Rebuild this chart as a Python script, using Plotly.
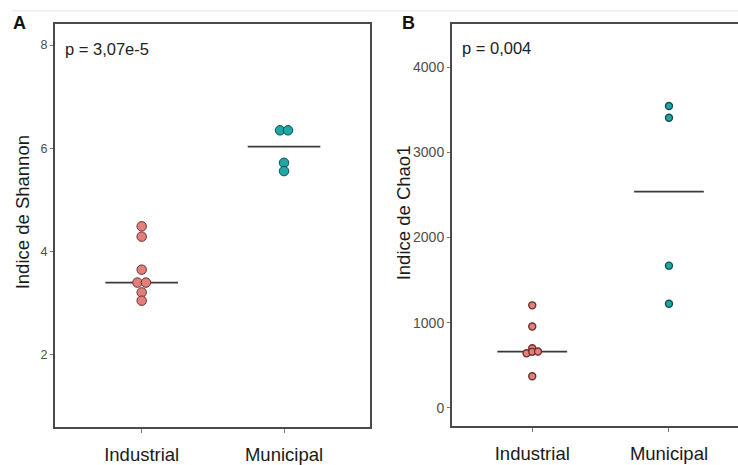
import numpy as np
import plotly.graph_objects as go

categories = ["Industrial", "Municipal"]

# Panel A: Shannon index
shannon_industrial = [4.49, 4.29, 3.65, 3.40, 3.40, 3.21, 3.05]
shannon_ind_dodge = [0, 0, 0, -0.03, 0.03, 0, 0]
shannon_municipal = [6.35, 6.35, 5.72, 5.56]
shannon_mun_dodge = [-0.028, 0.028, 0, 0]

# Panel B: Chao1 index
chao_industrial = [1203, 955, 699, 640, 657, 660, 371]
chao_ind_dodge = [0, 0, 0, -0.042, 0, 0.042, 0]
chao_municipal = [3544, 3407, 1669, 1222]
chao_mun_dodge = [0, 0, 0, 0]

shannon_ticks = [2, 4, 6, 8]
chao_ticks = [0, 1000, 2000, 3000, 4000]

p_texts = ["p = 3,07e-5", "p = 0,004"]
y_titles = ["Indice de Shannon", "Indice de Chao1"]
panel_labels = ["A", "B"]

IND_FILL, IND_LINE = "#E07F7C", "#6E2E2C"
MUN_FILL, MUN_LINE = "#1FA7A6", "#0E4F4F"
FONT = "Liberation Sans, Arial, sans-serif"

W, H = 738, 465

fig = go.Figure()

def add_panel(xref, yref, ind, ind_d, mun, mun_d, size, lw):
    for i, (vals, dodge, fill, line) in enumerate(
        [(ind, ind_d, IND_FILL, IND_LINE), (mun, mun_d, MUN_FILL, MUN_LINE)]
    ):
        med = float(np.median(vals))
        fig.add_trace(go.Scatter(
            x=[i - 0.255, i + 0.255], y=[med, med], mode="lines",
            line=dict(color="#3a3a3a", width=1.8),
            xaxis=xref, yaxis=yref, showlegend=False, hoverinfo="skip"))
        fig.add_trace(go.Scatter(
            x=[i + d for d in dodge], y=vals, mode="markers",
            marker=dict(size=size, color=fill, line=dict(color=line, width=lw)),
            xaxis=xref, yaxis=yref, showlegend=False))

add_panel("x", "y", shannon_industrial, shannon_ind_dodge,
          shannon_municipal, shannon_mun_dodge, 9.5, 1)
add_panel("x2", "y2", chao_industrial, chao_ind_dodge,
          chao_municipal, chao_mun_dodge, 7, 1.4)

ydom = [1 - 436 / H, 1 - 25 / H]
axcol = "#4a4a4a"

fig.update_layout(
    width=W, height=H,
    margin=dict(l=0, r=0, t=0, b=0),
    paper_bgcolor="white", plot_bgcolor="white",
    font=dict(family=FONT, color="#222"),
    xaxis=dict(domain=[55 / W, 370 / W], range=[-0.609, 1.604],
               tickvals=[0, 1], ticktext=categories,
               showline=True, linecolor=axcol, linewidth=2, mirror=True,
               ticks="outside", ticklen=4, tickcolor="#777",
               tickfont=dict(size=18.5, color="#1a1a1a"),
               showgrid=False, zeroline=False, ticklabelstandoff=6),
    yaxis=dict(domain=ydom, range=[0.61, 8.40], tickvals=shannon_ticks,
               showline=True, linecolor=axcol, linewidth=2, mirror=True,
               ticks="outside", ticklen=3, tickcolor="#777",
               tickfont=dict(size=12.5, color="#4d4d4d"),
               showgrid=False, zeroline=False),
    xaxis2=dict(domain=[452 / W, 1.0], range=[-0.587, 1.505], anchor="y2",
                tickvals=[0, 1], ticktext=categories,
                showline=True, linecolor=axcol, linewidth=2, mirror=True,
                ticks="outside", ticklen=4, tickcolor="#777",
                tickfont=dict(size=18.5, color="#1a1a1a"),
                showgrid=False, zeroline=False, ticklabelstandoff=6),
    yaxis2=dict(domain=[1 - 435 / H, 1 - 25 / H], range=[-210, 4502],
                anchor="x2", tickvals=chao_ticks,
                showline=True, linecolor=axcol, linewidth=2, mirror=False,
                ticks="outside", ticklen=3, tickcolor="#777",
                tickfont=dict(size=14, color="#4d4d4d"),
                showgrid=False, zeroline=False),
)

# faint outer frame lines of the original figure
fig.add_shape(type="line", xref="paper", yref="paper",
              x0=12 / W, x1=1, y0=1 - 11 / H, y1=1 - 11 / H,
              line=dict(color="#e4e4e4", width=1))

# p-values
fig.add_annotation(x=63 / W, y=1 - 50 / H, xref="paper", yref="paper",
                   text=p_texts[0], showarrow=False, xanchor="left",
                   yanchor="middle", font=dict(size=16.5, color="#222"))
fig.add_annotation(x=460 / W, y=1 - 49 / H, xref="paper", yref="paper",
                   text=p_texts[1], showarrow=False, xanchor="left",
                   yanchor="middle", font=dict(size=16.5, color="#222"))

# y titles
fig.add_annotation(x=22 / W, y=1 - 217 / H, xref="paper", yref="paper",
                   text=y_titles[0], showarrow=False, textangle=-90,
                   xanchor="center", yanchor="middle",
                   font=dict(size=18.5, color="#1a1a1a"))
fig.add_annotation(x=403 / W, y=1 - 218 / H, xref="paper", yref="paper",
                   text=y_titles[1], showarrow=False, textangle=-90,
                   xanchor="center", yanchor="middle",
                   font=dict(size=18.5, color="#1a1a1a"))

# panel labels
fig.add_annotation(x=19.5 / W, y=1 - 24 / H, xref="paper", yref="paper",
                   text="<b>" + panel_labels[0] + "</b>", showarrow=False,
                   xanchor="center", yanchor="middle",
                   font=dict(size=18, color="#111"))
fig.add_annotation(x=408 / W, y=1 - 23.5 / H, xref="paper", yref="paper",
                   text="<b>" + panel_labels[1] + "</b>", showarrow=False,
                   xanchor="center", yanchor="middle",
                   font=dict(size=18, color="#111"))

fig.write_html("out.html")
